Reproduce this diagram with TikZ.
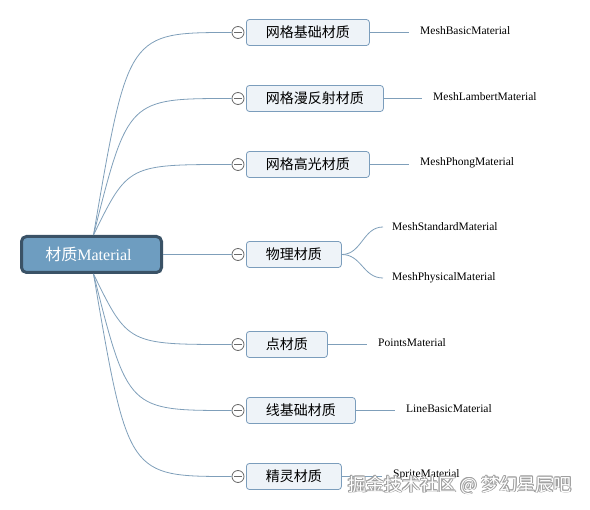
\documentclass[tikz,border=0pt]{standalone}
\usepackage{fontspec}
\setmainfont{Liberation Serif}
\newfontfamily\cjk{Noto Sans CJK SC}
\usetikzlibrary{calc}
\definecolor{linec}{HTML}{7F9FBA}
\definecolor{boxfill}{HTML}{EEF3F8}
\definecolor{boxdraw}{HTML}{7B9DBC}
\definecolor{rootfill}{HTML}{6E9DC0}
\definecolor{rootdraw}{HTML}{3A5266}
\definecolor{togc}{HTML}{6A6A6A}
\tikzset{
 conn/.style={draw=linec, line width=0.8pt},
 rootbox/.style={draw=rootdraw, line width=3pt, fill=rootfill, rounded corners=5pt, minimum width=140pt, minimum height=36pt, text=white, font=\fontsize{16}{16}\selectfont, inner sep=0},
 childbox/.style={draw=boxdraw, line width=0.8pt, fill=boxfill, rounded corners=3pt, minimum height=26pt, inner ysep=0, inner xsep=19.5pt, anchor=west, font=\cjk\fontsize{14}{14}\selectfont},
 toggle/.style={circle, draw=togc, fill=white, line width=0.8pt, minimum size=12pt, inner sep=0,
   path picture={\draw[togc, line width=0.8pt] ([xshift=-4pt]path picture bounding box.center) -- ([xshift=4pt]path picture bounding box.center);}},
 leaf/.style={anchor=west, inner xsep=0, inner ysep=1pt, font=\fontsize{11.5}{11.5}\selectfont},
 wmark/.style={font=\cjk\fontsize{18}{18}\selectfont, inner sep=0},
}
\begin{document}
\begin{tikzpicture}[x=1pt, y=-1pt]
\useasboundingbox (0,0) rectangle (590,510);
% root
\node[rootbox] (root) at (91.5,254.5) {{\cjk 材质}Material\hspace*{6pt}};
% toggles
\foreach \i/\y in {1/32.5, 2/98.5, 3/164.5, 4/254.5, 5/344.5, 6/410.5, 7/476.5}
  \node[toggle] (c\i) at (238,\y) {};
% child boxes
\node[childbox] (b1) at (246,32.5) {网格基础材质};
\node[childbox] (b2) at (246,98.5) {网格漫反射材质};
\node[childbox] (b3) at (246,164.5) {网格高光材质};
\node[childbox] (b4) at (246,254.5) {物理材质};
\node[childbox] (b5) at (246,344.5) {点材质};
\node[childbox] (b6) at (246,410.5) {线基础材质};
\node[childbox] (b7) at (246,476.5) {精灵材质};
% leaves
\node[leaf] (l1) at (420,31) {MeshBasicMaterial};
\node[leaf] (l2) at (433,97) {MeshLambertMaterial};
\node[leaf] (l3) at (420,163) {MeshPhongMaterial};
\node[leaf] (l4a) at (392,227) {MeshStandardMaterial};
\node[leaf] (l4b) at (392,278) {MeshPhysicalMaterial};
\node[leaf] (l5) at (378,343) {PointsMaterial};
\node[leaf] (l6) at (406,409) {LineBasicMaterial};
\node[leaf] (l7) at (393,475) {SpriteMaterial};
% root connectors
\coordinate (rt) at ([xshift=2pt]root.north);
\coordinate (rb) at ([xshift=2pt]root.south);
\foreach \i in {1,2,3}
  \draw[conn] (rt) .. controls (128,0 |- c\i) .. (c\i.west);
\foreach \i in {5,6,7}
  \draw[conn] (rb) .. controls (128,0 |- c\i) .. (c\i.west);
\draw[conn] (root.east) -- (c4.west);
% leaf connectors
\foreach \i in {1,2,3,5,6,7}
  \draw[conn, shorten >=11pt] (b\i.east) -- (b\i.east -| l\i.west);
\coordinate (p4a) at ($(l4a.west)+(-9,0)$);
\coordinate (p4b) at ($(l4b.west)+(-9,0)$);
\draw[conn] (b4.east) .. controls +(20,0) and +(-20,0) .. (p4a);
\draw[conn] (b4.east) .. controls +(20,0) and +(-20,0) .. (p4b);
% watermark
\foreach \dx/\dy [count=\k] in {-0.7/0, 0.7/0, 0/-0.7, 0/0.7, 0.5/0.5, -0.5/-0.5, 0.5/-0.5, -0.5/0.5}
  \node[wmark, text=gray!75] (wm\k) at ($(460,485)+(\dx,\dy)$) {掘金技术社区 @ 梦幻星辰吧};
\node[wmark, text=white] (wm) at (460,485) {掘金技术社区 @ 梦幻星辰吧};
\end{tikzpicture}
\end{document}
